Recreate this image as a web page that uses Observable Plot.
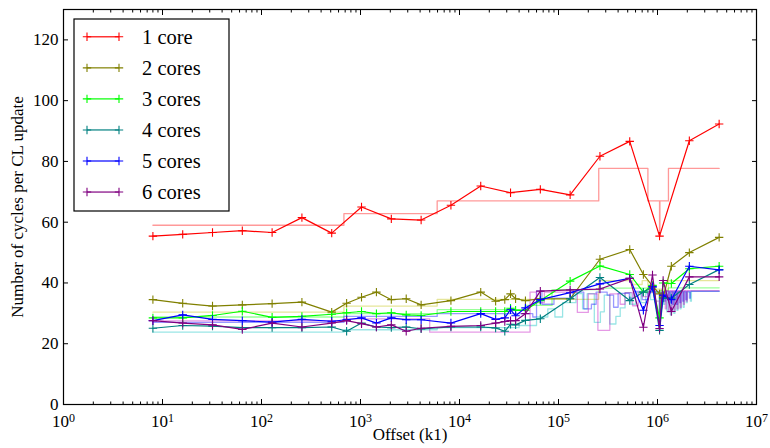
<!DOCTYPE html>
<html><head><meta charset="utf-8">
<script src="https://cdn.jsdelivr.net/npm/d3@7"></script>
<script src="https://cdn.jsdelivr.net/npm/@observablehq/plot@0.6"></script>
<style>
html,body{margin:0;padding:0;background:#fff;}
#chart{position:relative;width:770px;height:448px;}
</style></head><body><div id="chart"></div>
<script>
// Series names and colours
const seriesNames = ["1 core", "2 cores", "3 cores", "4 cores", "5 cores", "6 cores"];
const lineColors = ["#ff0000", "#808000", "#00ff00", "#008080", "#0000ff", "#800080"];
const stepColors = ["#ff0000", "#bfbf00", "#00ff00", "#00bfbf", "#0000ff", "#bf00bf"];

// Measured offsets (k1)
const offsetsSingle = [8, 16, 32, 64, 128, 256, 512, 1024, 2048, 4096, 8192, 16384, 32768, 65536, 131072, 262144, 524288, 1048576, 2097152, 4194304];
const offsetsMulti = [8, 16, 32, 64, 128, 256, 512, 724, 1024, 1448, 2048, 2896, 4096, 8192, 16384, 23170, 28672, 32768, 36864, 46341, 65536, 131072, 262144, 524288, 720000, 890000, 1048576, 1140000, 1380000, 2097152, 4194304];

// Cycles per cache-line update
const cycles1 = [55.4, 56.0, 56.6, 57.2, 56.6, 61.5, 56.4, 65.0, 61.1, 60.7, 65.6, 71.9, 69.7, 70.8, 69.0, 81.7, 86.6, 55.4, 86.8, 92.3];
const cycles2 = [34.5, 33.3, 32.4, 32.8, 33.2, 33.7, 30.4, 33.3, 35.3, 37.0, 34.5, 34.8, 32.8, 34.2, 37.0, 34.0, 34.5, 36.4, 34.8, 34.2, 34.8, 34.8, 47.8, 51.0, 42.8, 39.0, 36.4, 35.3, 45.5, 50.0, 55.0];
const cycles3 = [28.5, 28.5, 29.3, 30.7, 28.7, 29.0, 29.7, 30.2, 30.6, 29.9, 30.2, 29.5, 29.3, 30.6, 30.6, 30.6, 30.6, 31.7, 31.0, 31.0, 34.2, 40.6, 45.6, 42.8, 37.0, 39.2, 28.5, 40.0, 39.8, 44.7, 45.5];
const cycles4 = [25.1, 26.0, 25.8, 25.3, 25.3, 25.3, 25.5, 24.1, 26.8, 25.5, 25.3, 25.5, 24.9, 25.5, 25.5, 25.2, 24.1, 26.4, 26.2, 27.7, 28.2, 34.8, 41.8, 34.2, 37.0, 38.6, 24.4, 35.0, 35.0, 39.5, 44.4];
const cycles5 = [27.6, 29.5, 28.0, 27.6, 27.1, 28.0, 27.4, 27.9, 28.5, 26.8, 28.5, 27.9, 27.9, 26.8, 29.9, 28.0, 28.5, 31.2, 29.2, 31.8, 34.5, 36.8, 39.7, 41.5, 31.0, 38.8, 26.0, 36.0, 34.5, 45.5, 44.3];
const cycles6 = [27.6, 26.8, 26.2, 24.7, 26.8, 25.5, 26.8, 27.6, 26.6, 25.5, 26.2, 24.1, 25.1, 25.7, 26.0, 26.8, 27.3, 27.6, 27.6, 29.9, 37.3, 37.7, 38.0, 41.5, 25.4, 42.6, 25.0, 40.8, 30.6, 42.0, 42.0];

// Predicted cycles (step curves)
const stepX1 = [8, 680, 5950, 255000, 800000, 1048576, 1058000, 1290000, 4194304];
const stepY1 = [59.0, 62.8, 67.0, 77.7, 67.0, 55.4, 67.0, 77.7, 77.7];
const stepX2 = [8, 680, 5950, 255000, 560000, 700000, 800000, 1048576, 1058000, 1290000, 4194304];
const stepY2 = [30.4, 32.4, 34.6, 40.8, 39.5, 40.8, 38.0, 34.5, 38.0, 40.8, 40.8];
const stepX3 = [8, 680, 5950, 46000, 86000, 255000, 800000, 1048576, 1058000, 1290000, 4194304];
const stepY3 = [28.8, 29.9, 31.2, 32.6, 37.8, 38.3, 37.0, 30.0, 37.5, 38.4, 38.4];
const stepX4 = [8, 680, 5950, 40000, 60000, 78000, 92000, 110000, 150000, 175000, 195000, 230000, 265000, 290000, 330000, 380000, 420000, 470000, 540000, 600000, 680000, 760000, 850000, 940000, 1048576, 1060000, 1150000, 1190000, 1240000, 1280000, 1350000, 1390000, 1460000, 1500000, 1570000, 1610000, 1690000, 1730000, 1820000, 1860000, 1950000, 2000000, 2150000, 2200000, 4194304];
const stepY4 = [23.8, 24.6, 25.3, 26.0, 28.8, 31.5, 28.8, 33.5, 36.5, 31.5, 36.5, 27.0, 30.5, 36.0, 26.5, 29.0, 31.8, 36.8, 33.0, 36.8, 33.5, 36.5, 34.5, 36.8, 24.5, 36.8, 33.0, 37.0, 30.5, 37.0, 29.5, 37.0, 30.0, 37.0, 31.0, 37.0, 31.5, 37.0, 32.0, 37.0, 33.5, 37.0, 34.0, 37.3, 37.3];
const stepX5 = [8, 680, 5950, 55000, 60000, 68000, 90000, 140000, 180000, 215000, 240000, 310000, 360000, 400000, 520000, 580000, 700000, 800000, 1048576, 1060000, 1160000, 1200000, 1300000, 1340000, 1420000, 1460000, 1550000, 1600000, 1680000, 1720000, 1800000, 1840000, 1930000, 1980000, 2100000, 2150000, 4194304];
const stepY5 = [27.0, 29.0, 29.9, 28.8, 37.4, 33.0, 35.0, 37.0, 31.5, 33.0, 37.0, 36.0, 32.0, 36.6, 35.0, 37.2, 34.5, 37.2, 26.0, 36.6, 34.0, 37.2, 33.5, 37.2, 33.0, 37.2, 33.0, 37.2, 33.5, 37.2, 34.0, 37.2, 34.5, 37.2, 35.0, 37.2, 37.2];
const stepX6 = [8, 680, 5000, 51600, 60000, 72000, 155000, 200000, 250000, 330000, 420000, 470000, 560000, 640000, 700000, 800000, 950000, 1048576, 1070000, 1200000, 1230000, 1290000, 1320000, 1380000, 1410000, 1480000, 1510000, 1580000, 1620000, 1700000, 1740000, 1830000, 1870000, 1960000, 2000000, 4194304];
const stepY6 = [27.5, 28.2, 23.8, 37.0, 33.5, 37.0, 30.3, 36.4, 24.4, 36.4, 33.0, 36.8, 32.5, 36.8, 35.5, 36.8, 34.0, 25.0, 36.8, 31.5, 37.5, 30.5, 37.5, 30.5, 37.5, 31.0, 37.5, 31.5, 37.5, 32.0, 37.5, 33.0, 37.5, 34.0, 37.5, 37.5];

// Axis ticks
const xMajorTicks = [1, 10, 100, 1000, 10000, 100000, 1000000, 10000000];
const yTicks = [0, 20, 40, 60, 80, 100, 120];

const measured = [
  [offsetsSingle, cycles1], [offsetsMulti, cycles2], [offsetsMulti, cycles3],
  [offsetsMulti, cycles4], [offsetsMulti, cycles5], [offsetsMulti, cycles6]
].map(([xs, ys]) => xs.map((x, i) => ({x, y: ys[i]})));
const predicted = [
  [stepX1, stepY1], [stepX2, stepY2], [stepX3, stepY3],
  [stepX4, stepY4], [stepX5, stepY5], [stepX6, stepY6]
].map(([xs, ys]) => xs.map((x, i) => ({x, y: ys[i]})));

const xMinorTicks = [];
for (let e = 0; e < 7; e++) for (let m = 2; m <= 9; m++) xMinorTicks.push(m * 10 ** e);

// "10^k"; the exponent is raised into a tspan after rendering
const powLabel = d => "10^" + Math.round(Math.log10(d));

const FONT = "Liberation Serif";

// "+" marker drawn as two strokes
const plusSymbol = {
  draw(ctx, size) {
    const r = Math.sqrt(size / Math.PI);
    ctx.moveTo(-r, 0); ctx.lineTo(r, 0);
    ctx.moveTo(0, -r); ctx.lineTo(0, r);
  }
};

const marks = [];
predicted.forEach((rows, k) => {
  marks.push(Plot.line(rows, {x: "x", y: "y", curve: "step-after", stroke: stepColors[k], strokeOpacity: 0.4, strokeWidth: 1.3}));
});
measured.forEach((rows, k) => {
  marks.push(Plot.line(rows, {x: "x", y: "y", stroke: lineColors[k], strokeWidth: 1.2}));
  marks.push(Plot.dot(rows, {x: "x", y: "y", symbol: plusSymbol, r: 4.2, stroke: lineColors[k], fill: "none", strokeWidth: 1.1}));
});

marks.push(
  Plot.axisX({ticks: xMinorTicks, tickSize: -2.5, tickFormat: () => "", anchor: "bottom", label: null}),
  Plot.axisX({ticks: xMinorTicks, tickSize: -2.5, tickFormat: () => "", anchor: "top", label: null}),
  Plot.axisX({ticks: xMajorTicks, tickSize: -5, tickPadding: 15, tickFormat: powLabel, anchor: "bottom", label: null, fontSize: 17, fontFamily: FONT}),
  Plot.axisX({ticks: xMajorTicks, tickSize: -5, tickFormat: () => "", anchor: "top", label: null}),
  Plot.axisY({ticks: yTicks, tickSize: -5, tickPadding: 10, anchor: "left", label: null, fontSize: 17, fontFamily: FONT}),
  Plot.axisY({ticks: yTicks, tickSize: -5, tickFormat: () => "", anchor: "right", label: null}),
  Plot.frame({stroke: "black", strokeWidth: 1.2}),
  Plot.text(["Offset (k1)"], {frameAnchor: "bottom", dy: 35, fontSize: 17, fontFamily: FONT, textAnchor: "middle"}),
  Plot.text(["Number of cycles per CL update"], {frameAnchor: "left", rotate: -90, dx: -46, fontSize: 17, fontFamily: FONT, textAnchor: "middle"})
);

const chart = Plot.plot({
  width: 770,
  height: 448,
  marginLeft: 63,
  marginRight: 14,
  marginTop: 9,
  marginBottom: 44,
  x: {type: "log", domain: [1, 10000000]},
  y: {domain: [0, 130]},
  style: {fontFamily: FONT, fontSize: "17px", color: "black", background: "white"},
  marks
});
document.getElementById("chart").appendChild(chart);

const svg = d3.select(chart);

// Decade labels: "10" followed by a raised, smaller exponent
svg.selectAll("text").each(function () {
  const t = d3.select(this);
  const m = /^10\^(\d)$/.exec(t.text().trim());
  if (!m) return;
  t.text("10");
  t.append("tspan").attr("dy", "-0.42em").attr("font-size", "12px").text(m[1]);
});

// Legend box in the upper-left corner of the frame
const lg = svg.append("g").attr("class", "legend").attr("text-anchor", "start");
lg.append("rect").attr("x", 74).attr("y", 19).attr("width", 155).attr("height", 192)
  .attr("fill", "white").attr("stroke", "black").attr("stroke-width", 1.2);
seriesNames.forEach((name, k) => {
  const cy = 36.8 + k * 31.05;
  const c = lineColors[k];
  lg.append("line").attr("x1", 87).attr("x2", 119).attr("y1", cy).attr("y2", cy).attr("stroke", c).attr("stroke-width", 1.2);
  [87, 119].forEach(px => {
    lg.append("path").attr("d", `M${px - 4.2},${cy}H${px + 4.2}M${px},${cy - 4.2}V${cy + 4.2}`).attr("stroke", c).attr("stroke-width", 1.1).attr("fill", "none");
  });
  lg.append("text").attr("x", 142).attr("y", cy).attr("dy", "0.34em").attr("text-anchor", "start")
    .attr("font-size", 20.5).attr("font-family", FONT).attr("fill", "black").text(name);
});
</script></body></html>
